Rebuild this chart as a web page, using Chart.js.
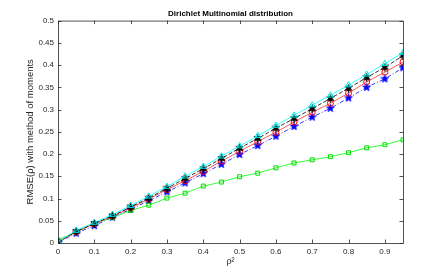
<!DOCTYPE html>
<html><head><meta charset="utf-8">
<script src="https://cdn.jsdelivr.net/npm/chart.js@4"></script>
<style>html,body{margin:0;padding:0;background:#fff}#wrap{width:445px;height:274px}</style>
</head><body><div id="wrap"><canvas id="c" width="445" height="274"></canvas></div>
<script>
const rho2 = [0,0.05,0.1,0.15,0.2,0.25,0.3,0.35,0.4,0.45,0.5,0.55,0.6,0.65,0.7,0.75,0.8,0.85,0.9,0.95];
const cyanVals  = [0.003,0.028,0.046,0.064,0.084,0.105,0.127,0.150,0.172,0.195,0.218,0.241,0.264,0.287,0.310,0.332,0.355,0.379,0.403,0.428];
const blackVals = [0.002,0.026,0.044,0.061,0.081,0.101,0.123,0.145,0.167,0.190,0.213,0.235,0.258,0.280,0.302,0.325,0.348,0.372,0.395,0.421];
const redVals   = [0.002,0.025,0.043,0.060,0.079,0.099,0.120,0.140,0.161,0.184,0.206,0.228,0.249,0.272,0.294,0.314,0.337,0.362,0.384,0.407];
const blueVals  = [0.001,0.022,0.039,0.058,0.076,0.095,0.115,0.135,0.156,0.177,0.199,0.219,0.240,0.262,0.283,0.303,0.326,0.350,0.369,0.394];
const greenVals = [0.007,0.025,0.044,0.057,0.073,0.085,0.101,0.112,0.128,0.137,0.149,0.157,0.169,0.180,0.187,0.194,0.203,0.214,0.221,0.232];
const xTicks = [0,0.1,0.2,0.3,0.4,0.5,0.6,0.7,0.8,0.9];
const yTicks = [0,0.05,0.1,0.15,0.2,0.25,0.3,0.35,0.4,0.45,0.5];
const titleText = 'Dirichlet Multinomial distribution';
const yTitle = 'RMSE(\u03C1) with method of moments';
const xTitle = '\u03C1\u00B2';

function starCanvas(points, color, size){
  const c = document.createElement('canvas'); c.width = size; c.height = size;
  const g = c.getContext('2d'); const r = size/2, ri = r*0.42;
  g.beginPath();
  for(let i=0;i<points*2;i++){
    const a = -Math.PI/2 + i*Math.PI/points; const rr = i%2? ri : r-0.3;
    g.lineTo(r+rr*Math.cos(a), r+rr*Math.sin(a));
  }
  g.closePath(); g.fillStyle = color; g.fill(); g.strokeStyle = color; g.lineWidth = 0.6; g.stroke();
  return c;
}
const pentagram = starCanvas(5,'#0000ff',9);
const hexagram = starCanvas(6,'#000000',9);

const mk = v => rho2.map((x,i)=>({x, y:v[i]}));
const AX = '#262626';

const boxPlugin = {
  id:'box',
  afterDatasetsDraw(chart){
    const {ctx, chartArea:a, scales:{x,y}} = chart;
    ctx.save(); ctx.strokeStyle = AX; ctx.lineWidth = 0.8;
    ctx.beginPath();
    ctx.rect(a.left+0.5, a.top+0.5, a.right-a.left, a.bottom-a.top);
    xTicks.forEach(v=>{const p=Math.round(x.getPixelForValue(v))+0.5;
      ctx.moveTo(p,a.bottom); ctx.lineTo(p,a.bottom-3.5); ctx.moveTo(p,a.top); ctx.lineTo(p,a.top+3.5);});
    yTicks.forEach(v=>{const p=Math.round(y.getPixelForValue(v))+0.5;
      ctx.moveTo(a.left,p); ctx.lineTo(a.left+3.5,p); ctx.moveTo(a.right,p); ctx.lineTo(a.right-3.5,p);});
    ctx.stroke(); ctx.restore();
  }
};

new Chart(document.getElementById('c'), {
  type:'line',
  data:{datasets:[
    {data:mk(cyanVals), borderColor:'#00ffff', backgroundColor:'rgba(0,0,0,0)', pointBorderColor:'#00e5e5', pointStyle:'triangle', pointRadius:3.5, borderWidth:0.8, pointBorderWidth:1},
    {data:mk(blackVals), borderColor:'#000000', borderDash:[4,2], pointStyle:hexagram, pointRadius:4, borderWidth:0.8},
    {data:mk(redVals), borderColor:'#ff3030', backgroundColor:'rgba(0,0,0,0)', pointBorderColor:'#ff0000', pointStyle:'circle', pointRadius:3, borderWidth:0.8, pointBorderWidth:1},
    {data:mk(greenVals), borderColor:'#00ff00', backgroundColor:'rgba(0,0,0,0)', pointBorderColor:'#00dd00', pointStyle:'rect', pointRadius:2.8, borderWidth:0.8, pointBorderWidth:1},
    {data:mk(blueVals), borderColor:'#0000ff', borderDash:[4,2,1,2], pointStyle:pentagram, pointRadius:4, borderWidth:0.8}
  ]},
  options:{
    responsive:false, animation:false, events:[],
    layout:{padding:{top:0,right:42,bottom:0,left:25}},
    plugins:{
      legend:{display:false}, tooltip:{enabled:false},
      title:{display:true, text:titleText, fullSize:false, color:'#000', font:{family:'Liberation Sans', size:8, weight:'bold'}, padding:{top:9,bottom:2}}
    },
    scales:{
      x:{type:'linear', min:0, max:0.95,
        afterBuildTicks:s=>{s.ticks = xTicks.map(v=>({value:v}));},
        afterFit:s=>{s.height = 31;},
        grid:{display:false, drawTicks:false}, border:{display:false},
        ticks:{color:AX, padding:4, maxRotation:0, font:{family:'Liberation Sans', size:8}, callback:v=>String(+v.toFixed(2))},
        title:{display:true, text:xTitle, color:AX, padding:{top:0,bottom:7}, font:{family:'Liberation Sans', size:9}}
      },
      y:{type:'linear', min:0, max:0.5,
        afterBuildTicks:s=>{s.ticks = yTicks.map(v=>({value:v}));},
        afterFit:s=>{s.width = 33;},
        grid:{display:false, drawTicks:false}, border:{display:false},
        ticks:{color:AX, padding:4, font:{family:'Liberation Sans', size:8}, callback:v=>String(+v.toFixed(2))},
        title:{display:true, text:yTitle, color:AX, padding:{top:0,bottom:2}, font:{family:'Liberation Sans', size:9.5}}
      }
    }
  },
  plugins:[boxPlugin]
});
</script></body></html>
